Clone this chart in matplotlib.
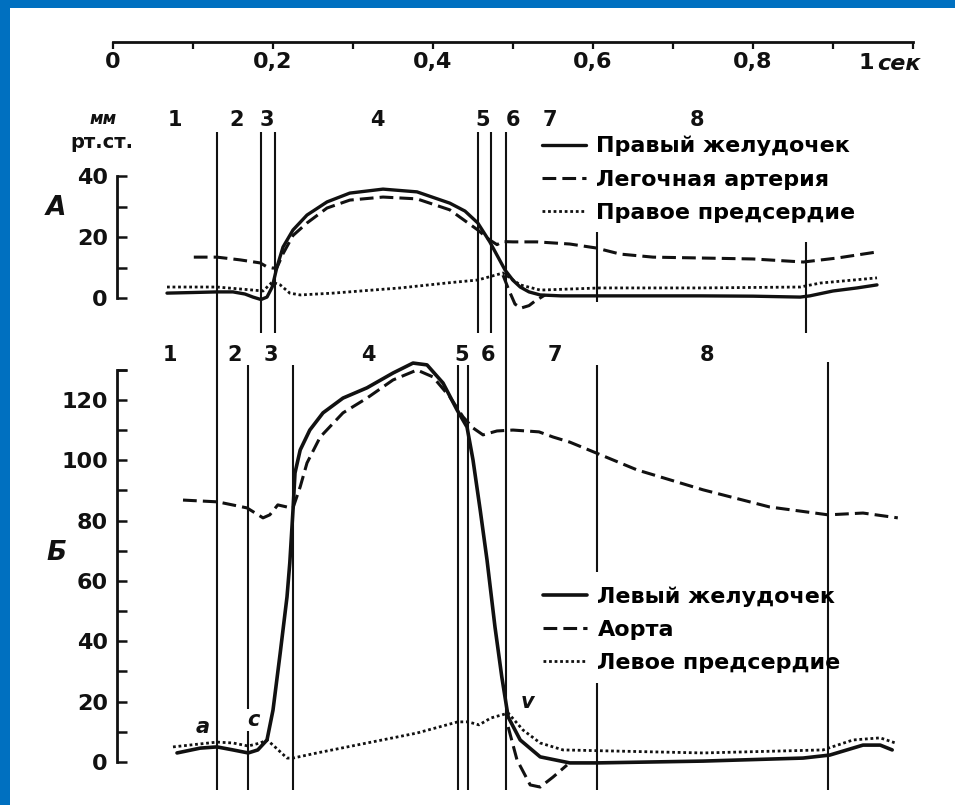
import matplotlib
matplotlib.use("Agg")
import matplotlib.pyplot as plt
from matplotlib.patches import Rectangle

plt.rcParams['font.family'] = ['DejaVu Sans']
plt.rcParams['font.weight'] = 'bold'

INK = '#111111'
BLUE = '#0070C0'

# ---- time axis ----
time_ticks = [0, 0.2, 0.4, 0.6, 0.8, 1.0]
time_labels = ['0', '0,2', '0,4', '0,6', '0,8', '']
time_minor = [0.1, 0.3, 0.5, 0.7, 0.9]

# ---- panel A: right heart ----
rv_t = [0.0675, 0.10, 0.13, 0.15, 0.165, 0.175, 0.185, 0.1925, 0.199, 0.205,
        0.2125, 0.225, 0.2425, 0.2675, 0.296, 0.3375, 0.38, 0.421, 0.44, 0.456,
        0.471, 0.49, 0.50, 0.509, 0.52, 0.534, 0.56, 0.609, 0.734, 0.80, 0.859,
        0.871, 0.90, 0.93, 0.955]
rv_p = [1.6, 1.8, 2.0, 2.0, 1.3, 0.3, -0.5, 0.3, 3.6, 10.2,
        16.7, 22.3, 27.2, 31.5, 34.4, 35.7, 34.8, 31.1, 28.5, 24.6,
        18.4, 9.2, 5.8, 3.6, 2.0, 1.0, 0.7, 0.7, 0.7, 0.6, 0.3,
        0.7, 2.3, 3.3, 4.3]

pa_t = [0.101, 0.13, 0.159, 0.184, 0.1925, 0.2, 0.205, 0.2125, 0.225, 0.2425,
        0.2675, 0.296, 0.3375, 0.38, 0.421, 0.456, 0.471, 0.48, 0.4875, 0.50,
        0.53, 0.571, 0.604, 0.634, 0.675, 0.738, 0.80, 0.863, 0.905, 0.955]
pa_p = [13.4, 13.4, 12.5, 11.5, 10.2, 9.8, 10.0, 14.5, 20.5, 24.6,
        29.5, 32.1, 33.1, 32.5, 28.9, 22.3, 19.0, 17.5, 18.5, 18.4,
        18.4, 17.7, 16.4, 14.4, 13.4, 13.1, 12.8, 11.8, 13.1, 15.1]

pa_dip_t = [0.4875, 0.495, 0.5025, 0.51, 0.52, 0.5275, 0.54]
pa_dip_p = [7.5, 2.5, -2.0, -3.3, -2.5, -1.0, 1.0]

ra_t = [0.0675, 0.13, 0.175, 0.1875, 0.199, 0.209, 0.221, 0.234, 0.275, 0.359,
        0.42, 0.456, 0.4875, 0.509, 0.534, 0.609, 0.734, 0.859, 0.884, 0.955]
ra_p = [3.6, 3.6, 2.6, 2.3, 5.2, 4.3, 1.6, 1.0, 1.6, 3.3,
        5.0, 5.9, 8.2, 4.3, 2.6, 3.3, 3.3, 3.6, 4.9, 6.6]

a_bounds = [0.13, 0.185, 0.2025, 0.456, 0.4725, 0.491, 0.605, 0.866]
a_phase_t = [0.0775, 0.155, 0.1925, 0.33, 0.4625, 0.50, 0.546, 0.73]
phase_labels = ['1', '2', '3', '4', '5', '6', '7', '8']
a_names = ['Правый желудочек', 'Легочная артерия', 'Правое предсердие']

# ---- panel Б: left heart ----
lv_t = [0.08, 0.109, 0.13, 0.15, 0.169, 0.181, 0.1925, 0.2, 0.209, 0.2175,
        0.221, 0.225, 0.2275, 0.234, 0.246, 0.2625, 0.2875, 0.3175, 0.35, 0.375,
        0.3925, 0.4125, 0.43, 0.4425, 0.45, 0.459, 0.4675, 0.4775, 0.486, 0.494,
        0.509, 0.534, 0.571, 0.605, 0.7375, 0.8625, 0.896, 0.9375, 0.959, 0.974]
lv_p = [3.0, 4.6, 5.0, 4.0, 3.0, 4.0, 7.3, 17.2, 36.1, 54.7,
        66.0, 83.5, 95.8, 103.4, 110.0, 115.7, 120.6, 124.0, 128.9, 132.2,
        131.6, 125.6, 116.7, 111.0, 100.1, 83.5, 67.0, 44.7, 28.2, 14.9,
        7.3, 1.7, -0.3, -0.3, 0.3, 1.3, 2.3, 5.6, 5.6, 4.0]

ao_t = [0.0875, 0.131, 0.1675, 0.1875, 0.196, 0.206, 0.2175, 0.225, 0.234, 0.2425,
        0.259, 0.2875, 0.3175, 0.35, 0.38, 0.40, 0.421, 0.4375, 0.45, 0.4625,
        0.48, 0.5, 0.5325, 0.55, 0.571, 0.604, 0.655, 0.7375, 0.821, 0.894,
        0.9375, 0.981]
ao_p = [86.8, 86.2, 84.2, 80.9, 81.9, 85.2, 84.5, 84.2, 91.2, 99.1,
        107.7, 115.7, 120.6, 126.6, 129.9, 127.6, 121.0, 114.4, 110.7, 108.4,
        109.7, 110.0, 109.4, 107.7, 106.0, 102.4, 96.8, 90.2, 84.5, 81.9,
        82.5, 80.9]

ao_dip_t = [0.494, 0.505, 0.5215, 0.534, 0.55, 0.5675]
ao_dip_p = [11.6, 0.7, -7.6, -8.3, -5.0, -1.0]

la_t = [0.075, 0.13, 0.15, 0.169, 0.184, 0.1925, 0.2, 0.2175, 0.225, 0.255,
        0.3175, 0.38, 0.431, 0.444, 0.4575, 0.4725, 0.494, 0.5125, 0.534, 0.5625,
        0.7375, 0.8875, 0.925, 0.959, 0.978]
la_p = [5.0, 6.6, 6.3, 5.3, 6.3, 7.3, 5.6, 1.3, 1.3, 3.0,
        6.3, 9.6, 13.3, 13.3, 12.3, 14.6, 16.2, 10.6, 6.3, 4.0,
        3.0, 4.0, 7.3, 8.0, 6.3]

b_bounds = [0.13, 0.169, 0.225, 0.431, 0.444, 0.491, 0.605, 0.894]
b_phase_t = [0.071, 0.1525, 0.1975, 0.319, 0.436, 0.469, 0.5525, 0.7425]
b_names = ['Левый желудочек', 'Аорта', 'Левое предсердие']
wave_labels = ['a', 'c', 'v']
wave_t = [0.1125, 0.175, 0.5175]
wave_p = [11.6, 13.9, 19.9]

W, H = 955, 805
fig = plt.figure(figsize=(W / 100, H / 100), dpi=100)
fig.patch.set_facecolor('white')


def box(left, top, right, bottom):
    return [left / W, (H - bottom) / H, (right - left) / W, (bottom - top) / H]


# overlay in pixel units, only for frame and free texts
lay = fig.add_axes([0, 0, 1, 1])
lay.set_xlim(0, W)
lay.set_ylim(H, 0)
lay.axis('off')
lay.add_patch(Rectangle((0, 0), W, 8, color=BLUE, lw=0))
lay.add_patch(Rectangle((0, 0), 10, H, color=BLUE, lw=0))

# time axis
axt = fig.add_axes(box(113, 20, 913, 42))
axt.set_xlim(0, 1)
axt.patch.set_visible(False)
for s in ['top', 'left', 'right']:
    axt.spines[s].set_visible(False)
axt.spines['bottom'].set_linewidth(2.0)
axt.spines['bottom'].set_color(INK)
axt.set_yticks([])
axt.set_xticks(time_ticks)
axt.set_xticklabels(time_labels)
axt.set_xticks(time_minor, minor=True)
axt.tick_params(axis='x', which='both', direction='out', length=5, width=1.6,
                color=INK, labelsize=16, pad=2, labelcolor=INK)
lay.text(866, 63, '1', fontsize=16, ha='center', va='center', color=INK)
lay.text(877, 64, 'сек', fontsize=16, style='italic', ha='left', va='center', color=INK)


def setup_panel(ax, ylim, top, majors, minors):
    ax.set_xlim(0.005, 1.0)
    ax.set_ylim(*ylim)
    ax.patch.set_visible(False)
    for s in ['top', 'right', 'bottom']:
        ax.spines[s].set_visible(False)
    ax.spines['left'].set_bounds(0, top)
    ax.spines['left'].set_linewidth(2.0)
    ax.spines['left'].set_color(INK)
    ax.set_xticks([])
    ax.set_yticks(majors)
    ax.set_yticks(minors, minor=True)
    ax.tick_params(axis='y', which='both', direction='in', length=7, width=1.8,
                   color=INK, labelsize=16, pad=6.5, labelcolor=INK)


curve_kw = dict(color=INK, clip_on=False, solid_capstyle='round', dash_capstyle='butt')
DASH = (4.5, 2.0)
DOT = (1.0, 1.0)

# ---- panel A ----
axa = fig.add_axes(box(117, 95, 913, 335))
setup_panel(axa, (-12.13, 66.56), 40, [0, 20, 40], [10, 30])
a_ext = [(54.4, -12.13), (54.4, -11.5), (54.4, -11.5), (54.4, -11.5),
         (54.4, -11.5), (54.4, -12.13), (21.6, -1.3), (18.4, -11.5)]
for t, (y1, y0) in zip(a_bounds, a_ext):
    axa.vlines(t, y0, y1, color=INK, lw=1.5, clip_on=False)
l1, = axa.plot(rv_t, rv_p, lw=2.4, **curve_kw)
l2, = axa.plot(pa_t, pa_p, lw=2.2, dashes=DASH, **curve_kw)
axa.plot(pa_dip_t, pa_dip_p, lw=2.2, dashes=DASH, **curve_kw)
l3, = axa.plot(ra_t, ra_p, lw=2.0, dashes=DOT, **curve_kw)
for t, s in zip(a_phase_t, phase_labels):
    axa.text(t, 58.4, s, fontsize=15, ha='center', va='center', color=INK)
axa.legend([l1, l2, l3], a_names, loc='upper left', bbox_to_anchor=(542, 136),
           bbox_transform=lay.transData, frameon=False, fontsize=16,
           handlelength=2.0, handletextpad=0.45, labelspacing=0.6,
           borderpad=0, borderaxespad=0)

lay.text(103, 119, 'мм', fontsize=12, style='italic', ha='center', va='center', color=INK)
lay.text(102, 143, 'рт.ст.', fontsize=14, ha='center', va='center', color=INK)
lay.text(56, 208, 'А', fontsize=19, style='italic', ha='center', va='center', color=INK)

# ---- panel Б ----
axb = fig.add_axes(box(117, 335, 913, 805))
setup_panel(axb, (-14.25, 141.5), 130, list(range(0, 121, 20)),
            list(range(10, 131, 20)) + [130])
b_ext = [(141.5, -9.3), (131.6, -9.3), (131.6, -9.3), (131.6, -9.3),
         (131.6, -9.3), (141.5, -9.3), (131.6, 63.0), (132.6, -9.3)]
for t, (y1, y0) in zip(b_bounds, b_ext):
    axb.vlines(t, y0, y1, color=INK, lw=1.5, clip_on=False)
axb.vlines(b_bounds[6], -9.3, 26.2, color=INK, lw=1.5, clip_on=False)
m1, = axb.plot(lv_t, lv_p, lw=2.6, **curve_kw)
m2, = axb.plot(ao_t, ao_p, lw=2.2, dashes=DASH, **curve_kw)
axb.plot(ao_dip_t, ao_dip_p, lw=2.2, dashes=DASH, **curve_kw)
m3, = axb.plot(la_t, la_p, lw=2.0, dashes=DOT, **curve_kw)
for t, s in zip(b_phase_t, phase_labels):
    axb.text(t, 134.9, s, fontsize=15, ha='center', va='center', color=INK)
for t, p, s in zip(wave_t, wave_p, wave_labels):
    axb.text(t, p, s, fontsize=15, style='italic', ha='center', va='center', color=INK,
             bbox=dict(facecolor='white', edgecolor='none', pad=0.5))
axb.legend([m1, m2, m3], b_names, loc='upper left', bbox_to_anchor=(543, 586),
           bbox_transform=lay.transData, frameon=False, fontsize=16,
           handlelength=2.0, handletextpad=0.45, labelspacing=0.6,
           borderpad=0, borderaxespad=0)
lay.text(56, 553, 'Б', fontsize=19, style='italic', ha='center', va='center', color=INK)

fig.savefig('out.png', dpi=100, facecolor='white')
